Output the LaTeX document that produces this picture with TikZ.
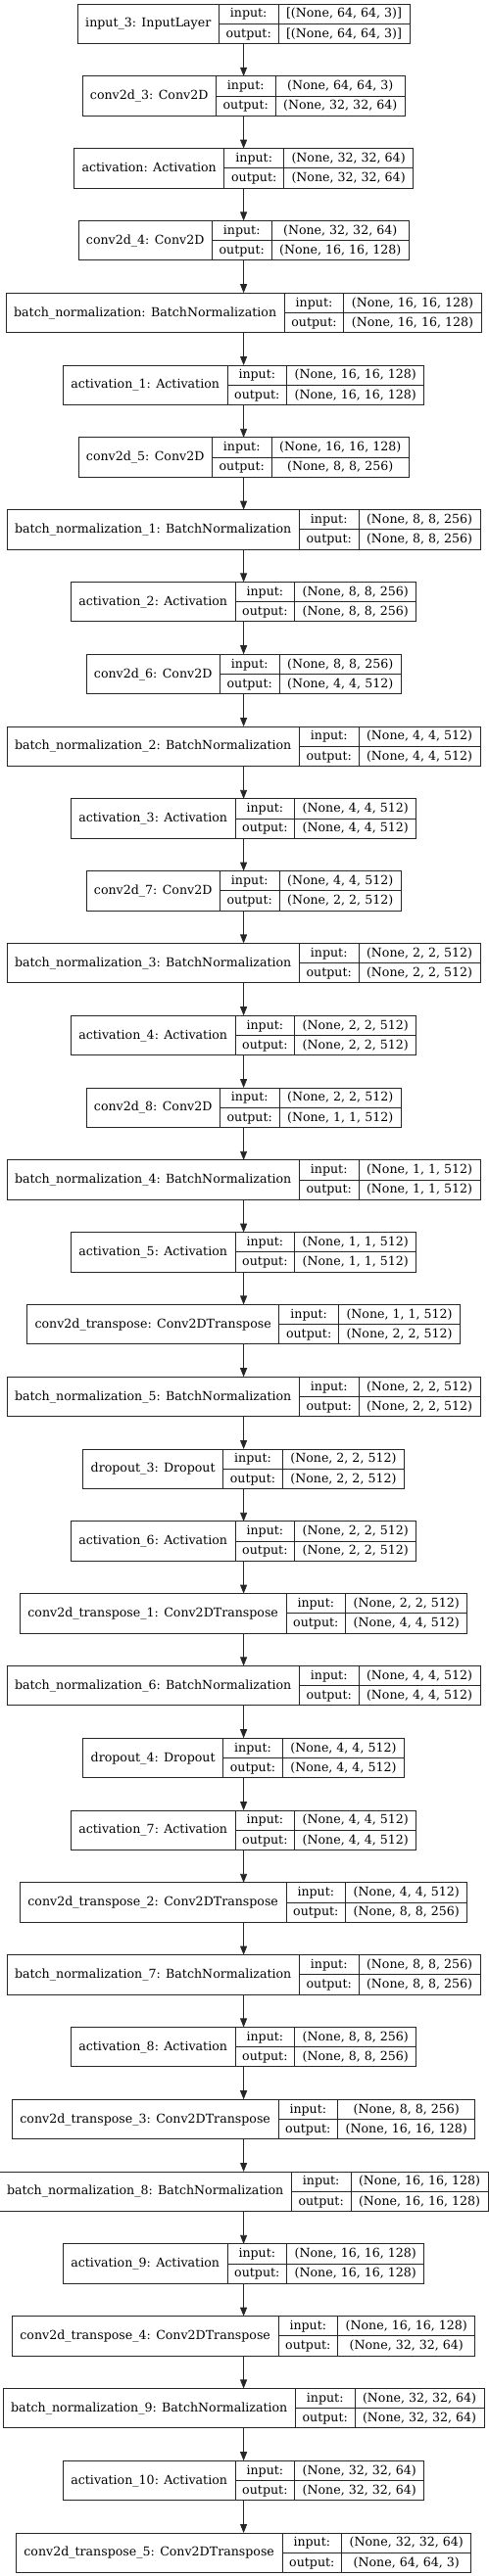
\documentclass[tikz,border=0pt]{standalone}
\usepackage{fontspec}
\setmainfont{DejaVu Serif}
\usetikzlibrary{arrows.meta}
\newdimen\Wa \newdimen\Wb \newdimen\Wc \newdimen\Wt
\newcommand\lf{\fontsize{12.6}{15}\selectfont}
\tikzset{
 rec/.style={draw=black!85, line width=0.9pt, inner sep=0pt, outer sep=0pt, minimum height=40.5pt},
 fld/.style={draw=black!85, line width=0.9pt, inner sep=0pt, outer sep=0pt, font=\lf, anchor=north west, text height=9.5pt, text depth=2.1pt},
 arr/.style={draw=black!85, line width=0.9pt, -{Triangle[length=9pt,width=7pt]}}
}
\newcommand\measurelayer[5]{%
 \setbox0\hbox{\lf #3}\Wa=\wd0 \advance\Wa by 16pt
 \setbox0\hbox{\lf #4}\Wb=\wd0
 \setbox0\hbox{\lf #5}\ifdim\wd0>\Wb \Wb=\wd0 \fi \advance\Wb by 16pt
 \Wc=60.7pt
 \Wt=\Wa \advance\Wt by \Wb \advance\Wt by \Wc
 \expandafter\xdef\csname wa#2\endcsname{\the\Wa}%
 \expandafter\xdef\csname wb#2\endcsname{\the\Wb}%
 \expandafter\xdef\csname wt#2\endcsname{\the\Wt}%
}
\newcommand\drawlayer[5]{%
 \pgfmathsetmacro\Ytop{-4-73.8*#1}
 \node[rec, minimum width=\csname wt#2\endcsname, anchor=north] (#2) at (248.6,\Ytop) {};
 \node[fld, minimum width=\csname wa#2\endcsname, minimum height=40.5pt] (#2n) at (#2.north west) {#3};
 \node[fld, minimum width=60.7pt, minimum height=20.25pt] (#2i) at (#2n.north east) {input:};
 \node[fld, minimum width=60.7pt, minimum height=20.25pt] (#2o) at (#2i.south west) {output:};
 \node[fld, minimum width=\csname wb#2\endcsname, minimum height=20.25pt] (#2vi) at (#2i.north east) {#4};
 \node[fld, minimum width=\csname wb#2\endcsname, minimum height=20.25pt] (#2vo) at (#2o.north east) {#5};
}
\newcommand\alllayers{%
\LYR{0}{l0}{input\_3: InputLayer}{[(None, 64, 64, 3)]}{[(None, 64, 64, 3)]}
\LYR{1}{l1}{conv2d\_3: Conv2D}{(None, 64, 64, 3)}{(None, 32, 32, 64)}
\LYR{2}{l2}{activation: Activation}{(None, 32, 32, 64)}{(None, 32, 32, 64)}
\LYR{3}{l3}{conv2d\_4: Conv2D}{(None, 32, 32, 64)}{(None, 16, 16, 128)}
\LYR{4}{l4}{batch\_normalization: BatchNormalization}{(None, 16, 16, 128)}{(None, 16, 16, 128)}
\LYR{5}{l5}{activation\_1: Activation}{(None, 16, 16, 128)}{(None, 16, 16, 128)}
\LYR{6}{l6}{conv2d\_5: Conv2D}{(None, 16, 16, 128)}{(None, 8, 8, 256)}
\LYR{7}{l7}{batch\_normalization\_1: BatchNormalization}{(None, 8, 8, 256)}{(None, 8, 8, 256)}
\LYR{8}{l8}{activation\_2: Activation}{(None, 8, 8, 256)}{(None, 8, 8, 256)}
\LYR{9}{l9}{conv2d\_6: Conv2D}{(None, 8, 8, 256)}{(None, 4, 4, 512)}
\LYR{10}{l10}{batch\_normalization\_2: BatchNormalization}{(None, 4, 4, 512)}{(None, 4, 4, 512)}
\LYR{11}{l11}{activation\_3: Activation}{(None, 4, 4, 512)}{(None, 4, 4, 512)}
\LYR{12}{l12}{conv2d\_7: Conv2D}{(None, 4, 4, 512)}{(None, 2, 2, 512)}
\LYR{13}{l13}{batch\_normalization\_3: BatchNormalization}{(None, 2, 2, 512)}{(None, 2, 2, 512)}
\LYR{14}{l14}{activation\_4: Activation}{(None, 2, 2, 512)}{(None, 2, 2, 512)}
\LYR{15}{l15}{conv2d\_8: Conv2D}{(None, 2, 2, 512)}{(None, 1, 1, 512)}
\LYR{16}{l16}{batch\_normalization\_4: BatchNormalization}{(None, 1, 1, 512)}{(None, 1, 1, 512)}
\LYR{17}{l17}{activation\_5: Activation}{(None, 1, 1, 512)}{(None, 1, 1, 512)}
\LYR{18}{l18}{conv2d\_transpose: Conv2DTranspose}{(None, 1, 1, 512)}{(None, 2, 2, 512)}
\LYR{19}{l19}{batch\_normalization\_5: BatchNormalization}{(None, 2, 2, 512)}{(None, 2, 2, 512)}
\LYR{20}{l20}{dropout\_3: Dropout}{(None, 2, 2, 512)}{(None, 2, 2, 512)}
\LYR{21}{l21}{activation\_6: Activation}{(None, 2, 2, 512)}{(None, 2, 2, 512)}
\LYR{22}{l22}{conv2d\_transpose\_1: Conv2DTranspose}{(None, 2, 2, 512)}{(None, 4, 4, 512)}
\LYR{23}{l23}{batch\_normalization\_6: BatchNormalization}{(None, 4, 4, 512)}{(None, 4, 4, 512)}
\LYR{24}{l24}{dropout\_4: Dropout}{(None, 4, 4, 512)}{(None, 4, 4, 512)}
\LYR{25}{l25}{activation\_7: Activation}{(None, 4, 4, 512)}{(None, 4, 4, 512)}
\LYR{26}{l26}{conv2d\_transpose\_2: Conv2DTranspose}{(None, 4, 4, 512)}{(None, 8, 8, 256)}
\LYR{27}{l27}{batch\_normalization\_7: BatchNormalization}{(None, 8, 8, 256)}{(None, 8, 8, 256)}
\LYR{28}{l28}{activation\_8: Activation}{(None, 8, 8, 256)}{(None, 8, 8, 256)}
\LYR{29}{l29}{conv2d\_transpose\_3: Conv2DTranspose}{(None, 8, 8, 256)}{(None, 16, 16, 128)}
\LYR{30}{l30}{batch\_normalization\_8: BatchNormalization}{(None, 16, 16, 128)}{(None, 16, 16, 128)}
\LYR{31}{l31}{activation\_9: Activation}{(None, 16, 16, 128)}{(None, 16, 16, 128)}
\LYR{32}{l32}{conv2d\_transpose\_4: Conv2DTranspose}{(None, 16, 16, 128)}{(None, 32, 32, 64)}
\LYR{33}{l33}{batch\_normalization\_9: BatchNormalization}{(None, 32, 32, 64)}{(None, 32, 32, 64)}
\LYR{34}{l34}{activation\_10: Activation}{(None, 32, 32, 64)}{(None, 32, 32, 64)}
\LYR{35}{l35}{conv2d\_transpose\_5: Conv2DTranspose}{(None, 32, 32, 64)}{(None, 64, 64, 3)}
}
\begin{document}
\let\LYR\measurelayer\alllayers
\begin{tikzpicture}[x=1pt,y=1pt]
\useasboundingbox[fill=white] (0,0) rectangle (498,-2631);
\let\LYR\drawlayer\alllayers
\foreach \i in {0,...,34}{
 \pgfmathtruncatemacro\j{\i+1}
 \draw[arr] (l\i.south) -- (l\j.north);
}
\end{tikzpicture}
\end{document}
